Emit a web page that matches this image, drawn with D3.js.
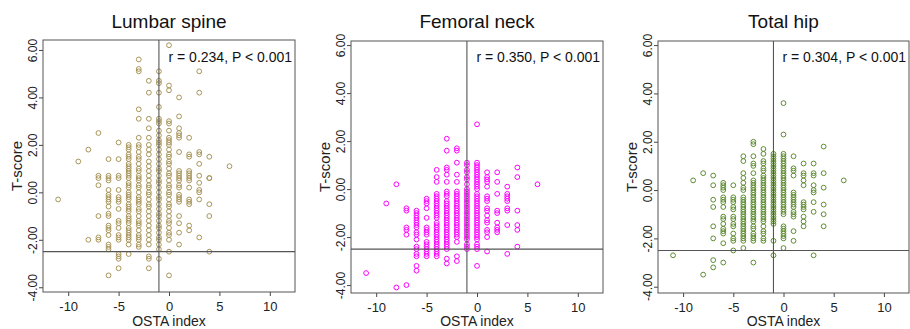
<!DOCTYPE html>
<html>
<head>
<meta charset="utf-8">
<script src="https://cdn.jsdelivr.net/npm/d3@7"></script>
<style>
  body { margin: 0; background: #fff; }
  svg { display: block; font-family: "Liberation Sans", Arial, sans-serif; }
</style>
</head>
<body>
<svg id="chart" width="910" height="329"></svg>
<script>
const titles = ["Lumbar spine", "Femoral neck", "Total hip"];
const stats = ["r = 0.234, P < 0.001", "r = 0.350, P < 0.001", "r = 0.304, P < 0.001"];
const xTicks = [-10, -5, 0, 5, 10];
const yTicks = [-4, -2, 0, 2, 4, 6];
const xLabel = "OSTA index";
const yLabel = "T-score";
const cutOsta = -1;
const cutT = -2.5;

// [OSTA index, T-scores in that column]
const lumbar = [
  [-11, [-0.3]],
  [-9, [1.3]],
  [-8, [1.8, -2.0]],
  [-7, [2.5, 0.7, 0.6, 0.3, -1.0, -1.9, -2.0]],
  [-6, [1.4, 0.7, 0.6, 0.5, 0.1, -0.1, -0.2, -0.3, -0.4, -0.6, -0.9, -1.0, -1.4, -1.5, -1.6, -1.8, -2.2, -2.3, -2.4, -3.5]],
  [-5, [2.1, 1.4, 0.7, 0.6, 0.1, -0.2, -0.3, -0.4, -0.7, -1.2, -1.3, -1.5, -1.8, -1.9, -2.0, -2.6, -2.7, -2.8, -3.2]],
  [-4, [2.0, 1.9, 1.8, 1.6, 1.5, 1.4, 1.2, 1.1, 1.0, 0.9, 0.8, 0.7, 0.6, 0.4, 0.3, 0.2, 0.0, -0.1, -0.2, -0.3, -0.5, -0.6, -0.7, -0.8, -1.0, -1.1, -1.2, -1.3, -1.5, -1.6, -1.7, -1.8, -1.9, -2.0, -2.2, -2.6]],
  [-3, [5.6, 5.2, 5.1, 3.5, 3.1, 2.3, 2.0, 1.9, 1.7, 1.5, 1.4, 1.2, 1.0, 0.9, 0.7, 0.6, 0.5, 0.3, 0.2, 0.0, -0.2, -0.3, -0.4, -0.5, -0.7, -0.8, -1.0, -1.2, -1.3, -1.4, -1.6, -1.8, -1.9, -2.0, -2.2, -2.3]],
  [-2, [4.7, 4.2, 3.1, 2.7, 2.3, 2.0, 1.8, 1.6, 1.3, 1.1, 0.9, 0.7, 0.5, 0.3, 0.2, 0.0, -0.1, -0.3, -0.5, -0.6, -0.8, -1.0, -1.2, -1.4, -1.6, -1.8, -2.0, -2.2, -2.7, -2.8, -3.2]],
  [-1, [5.1, 4.7, 4.6, 4.2, 3.6, 3.1, 3.0, 2.9, 2.6, 2.4, 2.2, 2.1, 2.0, 1.8, 1.6, 1.4, 1.2, 1.0, 0.9, 0.7, 0.5, 0.4, 0.2, 0.0, -0.2, -0.3, -0.5, -0.7, -0.9, -1.0, -1.2, -1.4, -1.5, -1.7, -1.9, -2.0, -2.2, -2.4, -2.8]],
  [0, [6.2, 4.5, 4.3, 3.0, 2.9, 2.6, 2.3, 2.2, 2.1, 2.0, 1.8, 1.6, 1.5, 1.3, 1.2, 1.0, 0.8, 0.7, 0.5, 0.3, 0.2, 0.0, -0.1, -0.3, -0.5, -0.6, -0.8, -1.0, -1.2, -1.3, -1.5, -1.7, -1.8, -2.0, -2.5, -3.5]],
  [1, [4.0, 3.2, 2.7, 2.5, 2.4, 2.3, 1.7, 0.9, 0.8, 0.7, 0.6, 0.5, 0.3, 0.2, -0.1, -0.2, -0.3, -0.4, -1.0, -1.3, -1.7, -2.2]],
  [2, [2.3, 1.6, 1.5, 0.9, 0.8, 0.7, 0.6, 0.5, 0.2, -0.3, -0.4, -0.5, -1.4, -1.6]],
  [3, [5.1, 4.2, 1.7, 1.6, 1.2, 0.7, 0.4, 0.1, 0.0, -0.3, -1.9]],
  [4, [1.5, 0.6, 0.6, -0.5, -1.0, -2.5]],
  [6, [1.1]]
];

const femoral = [
  [-11, [-3.5]],
  [-9, [-0.6]],
  [-8, [0.2, -4.1]],
  [-7, [-0.8, -0.9, -1.6, -1.7, -1.9, -4.0]],
  [-6, [-0.9, -1.0, -1.1, -1.2, -1.3, -1.4, -1.5, -1.6, -1.8, -1.9, -2.1, -2.4, -2.5, -2.7, -2.8, -3.2, -3.4]],
  [-5, [-0.4, -0.5, -0.6, -0.8, -1.2, -1.6, -1.7, -1.8, -1.9, -2.2, -2.3, -2.4, -2.5, -2.6, -2.7, -2.8]],
  [-4, [0.8, 0.5, 0.3, -0.2, -0.3, -0.4, -0.5, -0.6, -0.7, -0.8, -0.9, -1.0, -1.1, -1.2, -1.4, -1.5, -1.6, -1.7, -1.8, -1.9, -2.0, -2.1, -2.2, -2.3, -2.4, -2.5, -2.6, -2.7, -2.8]],
  [-3, [2.1, 1.6, 0.9, 0.8, 0.6, 0.3, -0.1, -0.2, -0.3, -0.5, -0.6, -0.7, -0.8, -0.9, -1.0, -1.1, -1.2, -1.3, -1.4, -1.5, -1.6, -1.7, -1.8, -1.9, -2.0, -2.1, -2.2, -2.3, -2.4, -2.5, -2.9, -3.1]],
  [-2, [1.7, 1.6, 1.1, 0.6, 0.3, -0.1, -0.2, -0.3, -0.4, -0.5, -0.6, -0.7, -0.8, -0.9, -1.0, -1.1, -1.2, -1.3, -1.4, -1.5, -1.6, -1.7, -1.8, -1.9, -2.0, -2.2, -2.8, -3.0]],
  [-1, [1.1, 1.0, 0.8, 0.7, 0.5, 0.4, 0.2, 0.0, -0.1, -0.2, -0.3, -0.4, -0.5, -0.6, -0.7, -0.8, -0.9, -1.0, -1.1, -1.2, -1.3, -1.4, -1.5, -1.6, -1.7, -1.8, -1.9, -2.0, -2.1, -2.3, -2.4, -2.5]],
  [0, [2.7, 1.1, 1.0, 0.9, 0.8, 0.7, 0.6, 0.5, 0.4, 0.3, 0.2, 0.1, 0.0, -0.2, -0.3, -0.4, -0.5, -0.6, -0.7, -0.8, -0.9, -1.0, -1.1, -1.2, -1.3, -1.4, -1.5, -1.6, -1.7, -1.8, -1.9, -2.0, -2.1, -2.3, -2.4, -2.5, -3.2]],
  [1, [0.7, 0.5, 0.4, 0.3, 0.1, -0.3, -0.4, -0.5, -0.8, -0.9, -1.1, -1.3, -1.4, -1.7, -1.8, -2.0, -2.6]],
  [2, [0.7, 0.3, -0.2, -0.9, -1.0, -1.4, -1.6, -1.7, -1.8]],
  [3, [0.1, -0.2, -0.3, -0.4, -0.5, -0.8, -0.9, -1.5, -2.7]],
  [4, [0.9, 0.5, -0.9, -1.5, -1.7, -2.4]],
  [6, [0.2]]
];

const hip = [
  [-11, [-2.7]],
  [-9, [0.4]],
  [-8, [0.7, -3.5]],
  [-7, [0.6, 0.2, -0.4, -0.7, -1.5, -2.0, -2.9, -3.2]],
  [-6, [0.3, 0.2, 0.1, 0.0, -0.3, -0.4, -0.5, -0.7, -1.1, -1.2, -1.4, -1.6, -1.7, -1.8, -2.2, -3.0]],
  [-5, [0.2, -0.3, -0.4, -0.5, -0.7, -0.8, -1.1, -1.2, -1.4, -1.5, -1.8, -2.0, -2.1, -2.5]],
  [-4, [1.4, 1.2, 0.7, 0.5, 0.3, 0.1, 0.0, -0.3, -0.4, -0.5, -0.6, -0.7, -0.8, -0.9, -1.0, -1.1, -1.2, -1.3, -1.4, -1.5, -1.6, -1.7, -1.8, -1.9, -2.0, -2.1, -2.4]],
  [-3, [2.0, 1.9, 1.4, 1.1, 1.0, 0.7, 0.4, 0.3, 0.2, 0.1, 0.0, -0.1, -0.2, -0.3, -0.4, -0.5, -0.6, -0.7, -0.8, -0.9, -1.0, -1.1, -1.2, -1.3, -1.5, -1.6, -1.8, -1.9, -2.0, -2.1, -3.0]],
  [-2, [1.7, 1.5, 1.2, 1.1, 0.9, 0.8, 0.6, 0.5, 0.4, 0.3, 0.2, 0.1, 0.0, -0.1, -0.2, -0.3, -0.4, -0.5, -0.6, -0.7, -0.8, -0.9, -1.0, -1.1, -1.2, -1.3, -1.5, -1.7, -1.8, -2.0, -2.1]],
  [-1, [1.5, 1.4, 1.3, 1.2, 1.1, 1.0, 0.9, 0.8, 0.7, 0.6, 0.5, 0.4, 0.3, 0.2, 0.1, 0.0, -0.1, -0.2, -0.3, -0.4, -0.5, -0.6, -0.7, -0.8, -0.9, -1.0, -1.1, -1.2, -1.3, -1.4, -2.1, -2.7]],
  [0, [3.6, 2.3, 1.5, 1.4, 1.3, 1.2, 1.1, 1.0, 0.9, 0.8, 0.7, 0.6, 0.5, 0.4, 0.3, 0.2, 0.1, 0.0, -0.1, -0.2, -0.3, -0.4, -0.5, -0.6, -0.7, -0.8, -0.9, -1.0, -1.5, -1.6, -1.7, -1.8, -1.9, -2.0, -2.4]],
  [1, [1.4, 0.9, 0.8, 0.6, -0.1, -0.2, -0.3, -0.4, -0.5, -0.6, -0.7, -0.9, -1.0, -1.1, -1.7, -2.1]],
  [2, [1.1, 0.7, 0.6, 0.4, 0.2, -0.5, -0.6, -0.7, -0.8, -1.1, -1.3, -1.5]],
  [3, [1.1, 0.7, 0.6, 0.2, 0.0, -0.1, -0.5, -0.9, -2.7]],
  [4, [1.8, 0.7, 0.1, -0.6, -1.0, -1.5]],
  [6, [0.4]]
];

const panelData = [lumbar, femoral, hip];

// layout / style
const colors = ["#a8955a", "#ff00ff", "#5e8c31"];
const frames = [
  { left: 43, right: 295, top: 40, bottom: 292, yMin: -4.2, yMax: 6.42 },
  { left: 351, right: 603, top: 41, bottom: 293, yMin: -4.33, yMax: 6.17 },
  { left: 658, right: 909, top: 41, bottom: 293, yMin: -4.26, yMax: 6.17 }
];

const svg = d3.select("#chart");

frames.forEach((f, i) => {
  const x = d3.scaleLinear().domain([-12.5, 12.5]).range([f.left, f.right]);
  const y = d3.scaleLinear().domain([f.yMin, f.yMax]).range([f.bottom, f.top]);
  const g = svg.append("g");
  const cx = (f.left + f.right) / 2;

  // title
  g.append("text")
    .attr("x", cx).attr("y", 28)
    .attr("text-anchor", "middle")
    .attr("font-size", 19)
    .attr("fill", "#111")
    .text(titles[i]);

  // axes
  const xa = g.append("g")
    .attr("transform", `translate(0,${f.bottom})`)
    .call(d3.axisBottom(x).tickValues(xTicks).tickSize(4).tickSizeOuter(0).tickFormat(d => String(d)));
  xa.select(".domain").remove();
  xa.selectAll("line").attr("stroke", "#444");
  xa.selectAll("text").attr("font-size", 13).attr("fill", "#222").attr("dy", 0).attr("y", 18.5);

  const ya = g.append("g")
    .attr("transform", `translate(${f.left},0)`)
    .call(d3.axisLeft(y).tickValues(yTicks).tickSize(4).tickSizeOuter(0).tickFormat(d3.format(".2f")));
  ya.select(".domain").remove();
  ya.selectAll("line").attr("stroke", "#444");
  ya.selectAll("text")
    .attr("x", 0).attr("y", 0).attr("dy", 0)
    .attr("transform", "translate(-6,0) rotate(-90)")
    .attr("text-anchor", "middle")
    .attr("font-size", 12)
    .attr("fill", "#222")
    .text(d => d3.format(".2f")(d).replace("\u2212", "-"));

  // axis titles
  g.append("text")
    .attr("x", cx).attr("y", 326)
    .attr("text-anchor", "middle")
    .attr("font-size", 14)
    .attr("fill", "#222")
    .text(xLabel);
  g.append("text")
    .attr("transform", `translate(${f.left - 21},${(f.top + f.bottom) / 2}) rotate(-90)`)
    .attr("text-anchor", "middle")
    .attr("font-size", 15)
    .attr("fill", "#222")
    .text(yLabel);

  // points
  const pts = panelData[i].flatMap(([o, ts]) => ts.map(t => ({ o, t })));
  g.append("g").selectAll("circle")
    .data(pts)
    .enter()
    .append("circle")
    .attr("cx", d => x(d.o))
    .attr("cy", d => y(d.t))
    .attr("r", 2.4)
    .attr("fill", "none")
    .attr("stroke", colors[i])
    .attr("stroke-width", 1);

  // reference lines
  g.append("line")
    .attr("x1", x(cutOsta)).attr("x2", x(cutOsta))
    .attr("y1", f.top).attr("y2", f.bottom)
    .attr("stroke", "#555").attr("stroke-width", 1.1);
  g.append("line")
    .attr("x1", f.left).attr("x2", f.right)
    .attr("y1", y(cutT)).attr("y2", y(cutT))
    .attr("stroke", "#555").attr("stroke-width", 1.1);

  // frame
  g.append("rect")
    .attr("x", f.left).attr("y", f.top)
    .attr("width", f.right - f.left).attr("height", f.bottom - f.top)
    .attr("fill", "none").attr("stroke", "#555").attr("stroke-width", 1);

  // stats text
  g.append("text")
    .attr("x", f.right - 3).attr("y", 62)
    .attr("text-anchor", "end")
    .attr("font-size", 14)
    .attr("fill", "#111")
    .text(stats[i]);
});
</script>
</body>
</html>
